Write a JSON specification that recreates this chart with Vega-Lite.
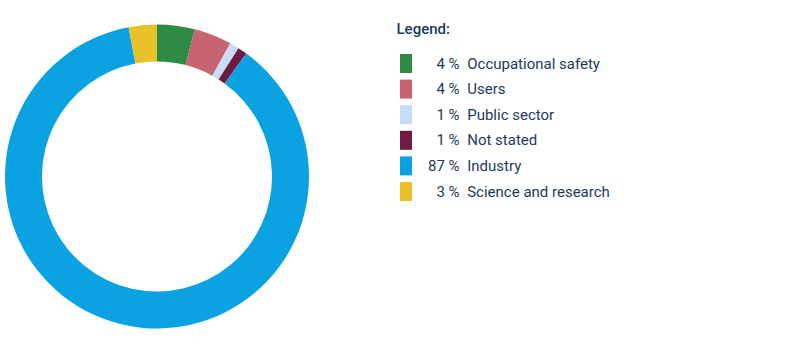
{
  "$schema": "https://vega.github.io/schema/vega-lite/v6.json",
  "width": 314,
  "height": 353,
  "padding": 0,
  "background": "white",
  "config": {"view": {"stroke": null}, "font": "Roboto"},
  "data": {
    "values": [
      {"category": "Occupational safety", "percent": 4, "order": 1},
      {"category": "Users", "percent": 4, "order": 2},
      {"category": "Public sector", "percent": 1, "order": 3},
      {"category": "Not stated", "percent": 1, "order": 4},
      {"category": "Industry", "percent": 87, "order": 5},
      {"category": "Science and research", "percent": 3, "order": 6}
    ]
  },
  "transform": [
    {"calculate": "(datum.percent < 10 ? '\u2060\u2007' : '') + datum.percent + ' %\u2002' + datum.category", "as": "label"}
  ],
  "mark": {"type": "arc", "innerRadius": 115, "outerRadius": 152},
  "encoding": {
    "theta": {"field": "percent", "type": "quantitative", "stack": true},
    "order": {"field": "order", "type": "quantitative", "sort": "ascending"},
    "color": {
      "field": "label",
      "type": "nominal",
      "sort": {"field": "order", "op": "min"},
      "scale": {
        "range": ["#2e8b46", "#c8646f", "#c5ddf5", "#6e1a41", "#0ba2e2", "#e9c22a"]
      },
      "legend": {
        "orient": "none",
        "legendX": 396.5,
        "legendY": 22,
        "title": "Legend:",
        "titleFont": "Roboto",
        "titleFontSize": 15,
        "titleFontWeight": 500,
        "titleColor": "#1e3a5c",
        "titlePadding": 17,
        "symbolType": "M-0.63,-1L0.63,-1L0.63,1L-0.63,1Z",
        "symbolSize": 361,
        "symbolStrokeWidth": 0,
        "symbolOpacity": 1,
        "labelFont": "Roboto",
        "labelFontSize": 15,
        "labelColor": "#1e3a5c",
        "labelOffset": 12.5,
        "labelLimit": 400,
        "rowPadding": 6.6
      }
    }
  }
}
